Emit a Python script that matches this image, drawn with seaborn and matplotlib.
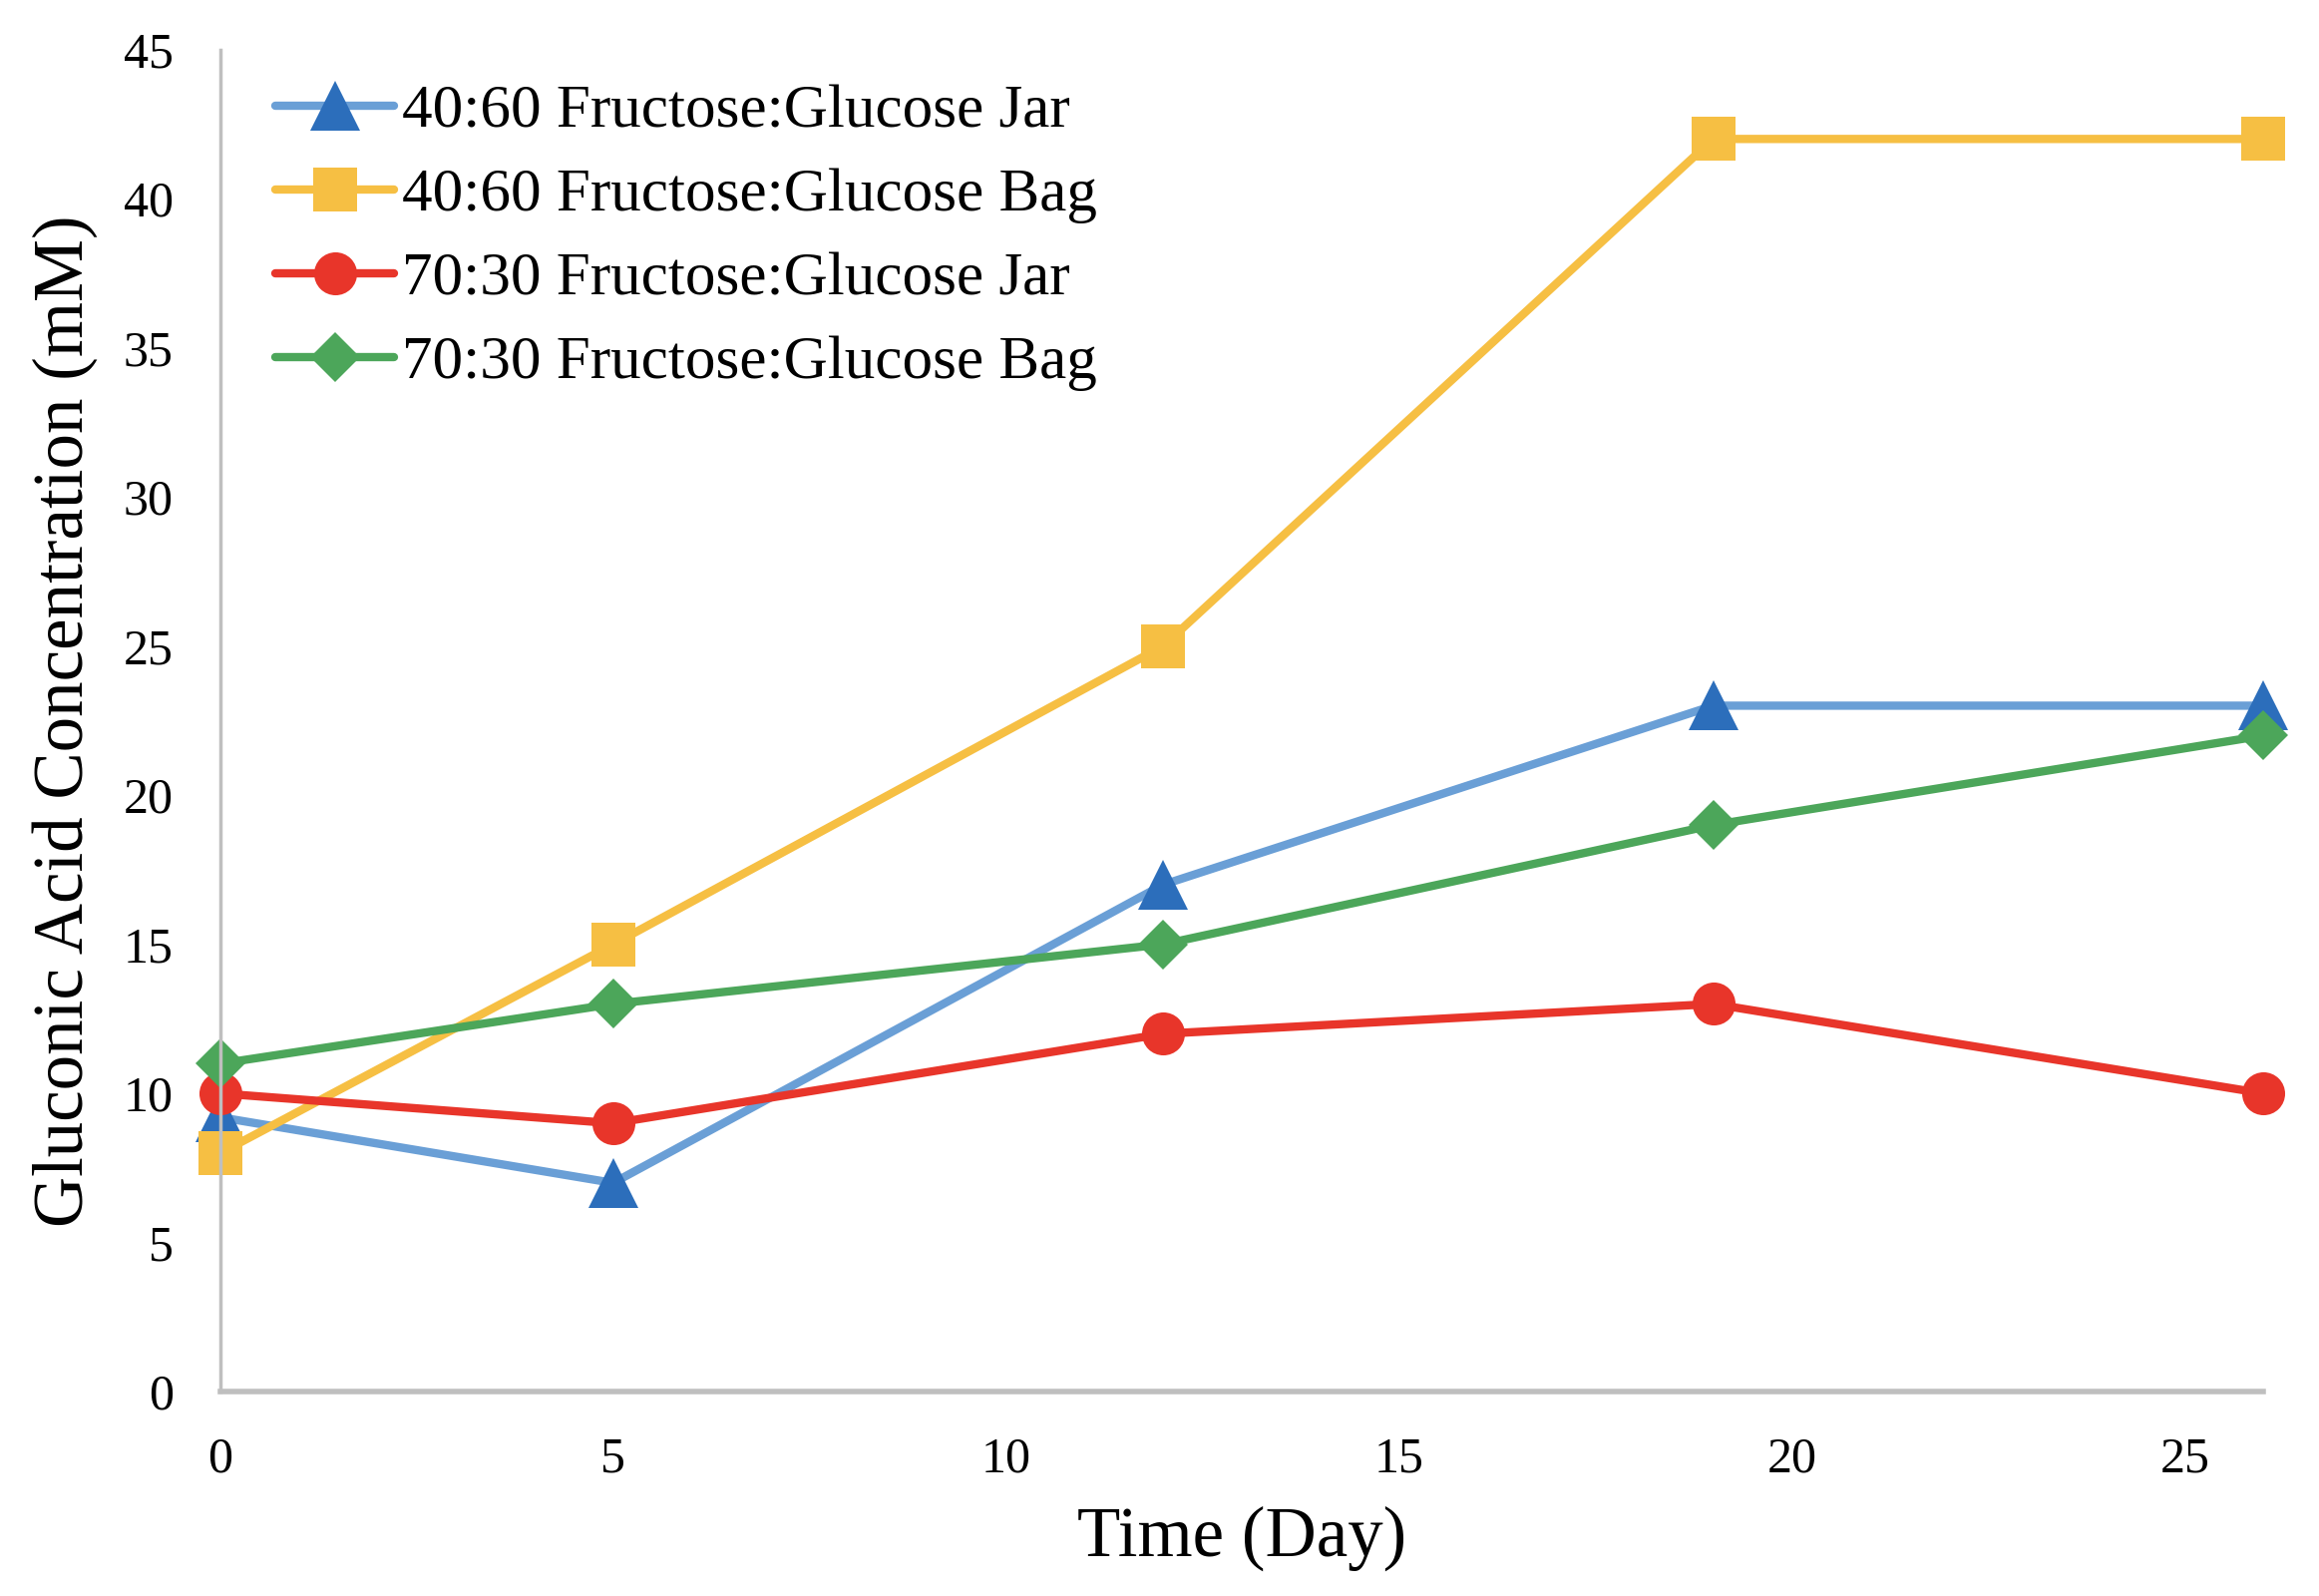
import pandas as pd
import matplotlib.pyplot as plt
import seaborn as sns

# Data
days = [0, 5, 12, 19, 26]
jar_40_60 = [9.2, 7, 17, 23, 23]
bag_40_60 = [8, 15, 25, 42, 42]
jar_70_30 = [10, 9, 12, 13, 10]
bag_70_30 = [11, 13, 15, 19, 22]

series_names = [
    "40:60 Fructose:Glucose Jar",
    "40:60 Fructose:Glucose Bag",
    "70:30 Fructose:Glucose Jar",
    "70:30 Fructose:Glucose Bag",
]
series_values = [jar_40_60, bag_40_60, jar_70_30, bag_70_30]

x_ticks = [0, 5, 10, 15, 20, 25]
y_ticks = [0, 5, 10, 15, 20, 25, 30, 35, 40, 45]

# styling per series: line colour, marker colour, marker, size
styles = [
    ("#6A9FD6", "#2C6EBB", "^", 36),
    ("#F6BF43", "#F6BF43", "s", 31),
    ("#E8352A", "#E8352A", "o", 31),
    ("#4CA65A", "#4CA65A", "D", 25),
]

rows = []
for name, vals in zip(series_names, series_values):
    for d, v in zip(days, vals):
        rows.append({"day": d, "conc": v, "series": name})
df = pd.DataFrame(rows)

sns.set_style("white")
plt.rcParams["font.family"] = ["Liberation Serif", "DejaVu Serif"]
plt.rcParams["text.color"] = "black"
plt.rcParams["xtick.color"] = "black"
plt.rcParams["ytick.color"] = "black"
plt.rcParams["axes.labelcolor"] = "black"

fig = plt.figure(figsize=(23.25, 16), dpi=100)
ax = fig.add_axes([0.095, 0.128, 0.881, 0.841])

for name, (lc, mc, mk, ms) in zip(series_names, styles):
    sub = df[df["series"] == name]
    sns.lineplot(data=sub, x="day", y="conc", ax=ax, color=lc, linewidth=6,
                 marker=mk, markersize=ms, markerfacecolor=mc,
                 markeredgecolor=mc, markeredgewidth=0, label=name,
                 clip_on=False)

ax.set_xlim(0, 26)
ax.set_ylim(0, 45)
ax.set_xticks(x_ticks)
ax.set_yticks(y_ticks)
ax.tick_params(axis="both", length=0, labelsize=36)
ax.tick_params(axis="x", pad=32)
ax.tick_params(axis="y", pad=34)

for s in ["top", "right"]:
    ax.spines[s].set_visible(False)
for s in ["left", "bottom"]:
    ax.spines[s].set_color("#BFBFBF")
ax.spines["left"].set_linewidth(2.5)
ax.spines["bottom"].set_linewidth(4)

ax.set_xlabel("Time (Day)", fontsize=51)
ax.set_ylabel("Gluconic Acid Concentration (mM)", fontsize=51)
ax.xaxis.set_label_coords(0.5, -0.085)
ax.yaxis.set_label_coords(-0.06, 0.5)

ax.legend(loc="upper left", bbox_to_anchor=(0.027, 0.974), frameon=False,
          fontsize=44, borderpad=0, labelspacing=0.46, handlelength=1.95,
          handletextpad=0.12, borderaxespad=0)

fig.savefig("out.png", dpi=100)
plt.close()
